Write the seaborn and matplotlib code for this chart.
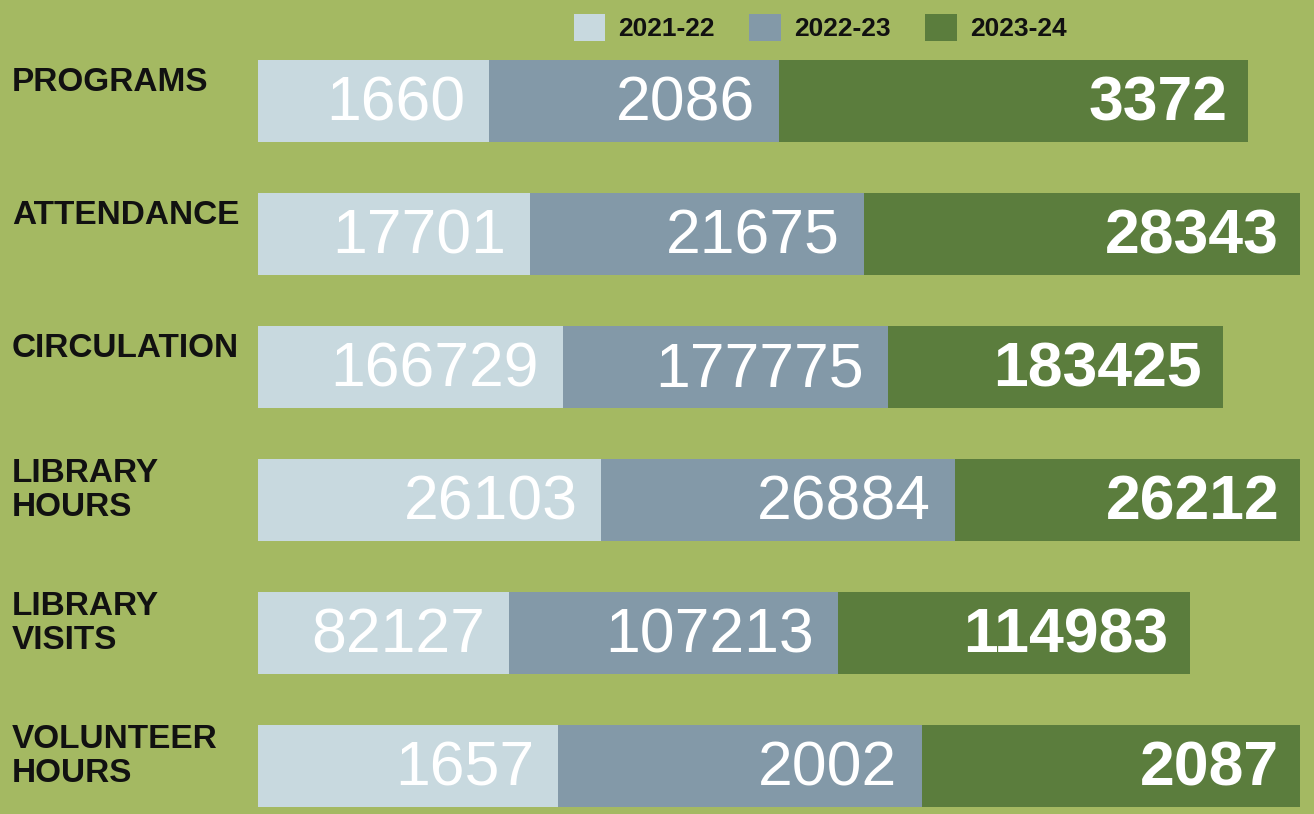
import matplotlib
matplotlib.use("Agg")
import matplotlib.pyplot as plt
import seaborn as sns
import numpy as np
import pandas as pd
from matplotlib.patches import Patch

# ---- data ----
categories = ["PROGRAMS", "ATTENDANCE", "CIRCULATION", "LIBRARY\nHOURS", "LIBRARY\nVISITS", "VOLUNTEER\nHOURS"]
years = ["2021-22", "2022-23", "2023-24"]
v2021 = [1660, 17701, 166729, 26103, 82127, 1657]
v2022 = [2086, 21675, 177775, 26884, 107213, 2002]
v2023 = [3372, 28343, 183425, 26212, 114983, 2087]

# ---- layout / style ----
row_span = [95.0, 100.0, 92.6, 100.0, 89.4, 100.0]  # drawn length of each row (% of full width)
colors = ["#c8d9df", "#8399a8", "#5b7d3d"]
bg = "#a4b962"

sns.set_theme(style="white")
plt.rcParams["font.family"] = ["Liberation Sans", "DejaVu Sans"]

vals = np.array([v2021, v2022, v2023], dtype=float)
shares = vals / vals.sum(axis=0) * np.array(row_span)
cum = np.cumsum(shares, axis=0)

fig = plt.figure(figsize=(13.14, 8.14), dpi=100)
fig.patch.set_facecolor(bg)
W, H = 1314.0, 814.0
row_px = 133.0
ax_top = 101 - row_px / 2
ax_h = row_px * 6
ax = fig.add_axes([258 / W, (H - ax_top - ax_h) / H, 1042 / W, ax_h / H])
ax.set_facecolor(bg)

# layered bars: draw largest cumulative first
for k in [2, 1, 0]:
    df = pd.DataFrame({"cat": categories, "x": cum[k]})
    sns.barplot(data=df, y="cat", x="x", color=colors[k], width=0.62,
                saturation=1, ax=ax, orient="h", linewidth=0)

ax.set_xlim(0, 100)
ax.set_ylim(5.5, -0.5)
ax.set_xlabel("")
ax.set_ylabel("")
ax.set_xticks([])
ax.set_yticks([])
for s in ax.spines.values():
    s.set_visible(False)

# value labels
for i in range(len(categories)):
    for k in range(3):
        ax.text(cum[k, i] - (2.3 if k < 2 else 2.0), i + 0.02, str(int(vals[k, i])),
                ha="right", va="center", color="white", fontsize=45,
                fontweight="bold" if k == 2 else "normal")

# category labels
for i, c in enumerate(categories):
    off = -0.07 if "\n" in c else -0.14
    ax.text(-246 / 1042 * 100, i + off, c, ha="left", va="center", fontsize=24,
            fontweight="bold", color="#111111", linespacing=1.15)

handles = [Patch(facecolor=colors[k], edgecolor="none", label=years[k]) for k in range(3)]
leg = fig.legend(handles=handles, loc="upper center", bbox_to_anchor=(820 / W, 1.012), ncol=3,
                 frameon=False, fontsize=19, handlelength=1.2, handleheight=1.2,
                 handletextpad=0.5, columnspacing=1.3)
for t in leg.get_texts():
    t.set_fontweight("bold")
    t.set_color("#111111")

fig.savefig("out.png", dpi=100, facecolor=bg)
